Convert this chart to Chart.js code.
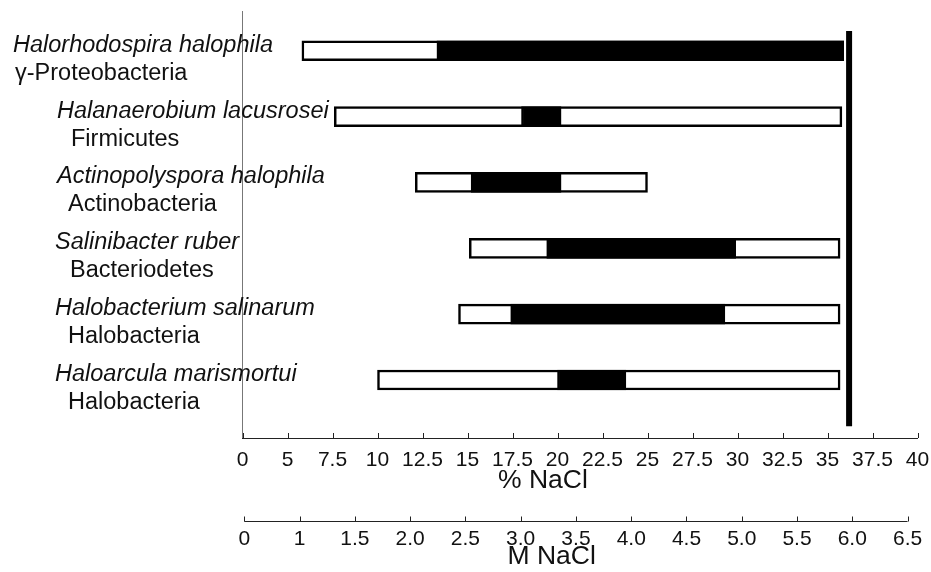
<!DOCTYPE html>
<html>
<head>
<meta charset="utf-8">
<script src="https://cdn.jsdelivr.net/npm/chart.js@4.4.1/dist/chart.umd.min.js"></script>
<style>
  html, body { margin: 0; padding: 0; background: #fff; }
  #chart { display: block; }
</style>
</head>
<body>
<canvas id="chart" width="931" height="572"></canvas>
<script>
// Species (top to bottom) and their phylum
const species = ['Halorhodospira halophila', 'Halanaerobium lacusrosei', 'Actinopolyspora halophila',
                 'Salinibacter ruber', 'Halobacterium salinarum', 'Haloarcula marismortui'];
const phyla = ['\u03b3-Proteobacteria', 'Firmicutes', 'Actinobacteria', 'Bacteriodetes', 'Halobacteria', 'Halobacteria'];

// Growth range, % NaCl
const rangeMin = [5.8, 7.6, 12.1, 15.1, 14.5, 10.0];
const rangeMax = [35.9, 35.8, 25.0, 35.7, 35.7, 35.7];
// Optimum range, % NaCl
const optMin = [13.3, 18.0, 15.2, 19.4, 17.4, 20.0];
const optMax = [35.9, 20.2, 20.2, 29.9, 29.3, 23.8];

// NaCl saturation
const saturation = 36.2;

// % NaCl axis (first tick is labelled 0)
const pctTicks = [2.5, 5, 7.5, 10, 12.5, 15, 17.5, 20, 22.5, 25, 27.5, 30, 32.5, 35, 37.5, 40];
const pctTickLabels = ['0', '5', '7.5', '10', '12.5', '15', '17.5', '20', '22.5', '25', '27.5', '30', '32.5', '35', '37.5', '40'];
// M NaCl axis
const molarTicks = [0.5, 1, 1.5, 2, 2.5, 3, 3.5, 4, 4.5, 5, 5.5, 6, 6.5];
const molarTickLabels = ['0', '1', '1.5', '2.0', '2.5', '3.0', '3.5', '4.0', '4.5', '5.0', '5.5', '6.0', '6.5'];

const FONT = '"Liberation Sans", Arial, sans-serif';
const INK = '#111';

// label columns on the left
const nameX = [13, 57, 57, 55, 55, 55];
const phylumX = [15, 71, 68, 70, 68, 68];

const sideLabels = {
    id: 'sideLabels',
    afterDraw(chart) {
        const ctx = chart.ctx;
        const y = chart.scales.y;
        ctx.save();
        ctx.fillStyle = INK;
        ctx.textBaseline = 'alphabetic';
        species.forEach((name, i) => {
            const py = y.getPixelForValue(i + 1);
            ctx.font = 'italic 23.5px ' + FONT;
            ctx.fillText(name, nameX[i], py + 1);
            ctx.font = '23.5px ' + FONT;
            ctx.fillText(phyla[i], phylumX[i], py + 29);
        });
        ctx.restore();
    }
};

// short tick marks pointing up, the M NaCl axis line and both axis titles
const axisExtras = {
    id: 'axisExtras',
    afterDraw(chart) {
        const ctx = chart.ctx;
        const {x, x2} = chart.scales;
        ctx.save();
        ctx.strokeStyle = '#222';
        ctx.lineWidth = 1;
        ctx.beginPath();
        pctTicks.forEach(v => {
            const px = Math.round(x.getPixelForValue(v)) + 0.5;
            ctx.moveTo(px, x.top);
            ctx.lineTo(px, x.top - 5);
        });
        const y2 = Math.round(x2.top + 39) + 0.5;
        ctx.moveTo(x2.getPixelForValue(molarTicks[0]), y2);
        ctx.lineTo(x2.getPixelForValue(molarTicks[molarTicks.length - 1]), y2);
        molarTicks.forEach(v => {
            const px = Math.round(x2.getPixelForValue(v)) + 0.5;
            ctx.moveTo(px, y2);
            ctx.lineTo(px, y2 - 5);
        });
        ctx.stroke();

        ctx.fillStyle = INK;
        ctx.font = '26.5px ' + FONT;
        ctx.textAlign = 'center';
        ctx.textBaseline = 'middle';
        ctx.fillText('% NaCl', x.left + x.width * 0.445, x.bottom - 1);
        ctx.fillText('M NaCl', x2.left + x2.width * 0.458, x2.top + 75);
        ctx.restore();
    }
};

const rows = species.map((s, i) => i + 1);

new Chart(document.getElementById('chart'), {
    type: 'bar',
    data: {
        datasets: [
            {
                label: 'Optimum',
                data: rows.map((r, i) => ({ y: r, x: [optMin[i], optMax[i]] })),
                backgroundColor: '#000',
                borderColor: '#000',
                borderWidth: 2,
                borderSkipped: false,
                barThickness: 20,
                grouped: false
            },
            {
                label: 'Range',
                data: rows.map((r, i) => ({ y: r, x: [rangeMin[i], rangeMax[i]] })),
                backgroundColor: '#fff',
                borderColor: '#000',
                borderWidth: 2.5,
                borderSkipped: false,
                barThickness: 20,
                grouped: false
            },
            {
                type: 'line',
                label: 'Saturation',
                data: [{ x: saturation, y: 0.7 }, { x: saturation, y: 6.7 }],
                borderColor: '#000',
                borderWidth: 6,
                pointRadius: 0,
                borderCapStyle: 'butt'
            }
        ]
    },
    options: {
        indexAxis: 'y',
        responsive: false,
        animation: false,
        layout: { padding: { left: 242.5, right: 13.5, top: 11, bottom: 0 } },
        plugins: { legend: { display: false }, tooltip: { enabled: false } },
        scales: {
            y: {
                type: 'linear',
                reverse: true,
                offset: false,
                min: 0.397,
                max: 6.88,
                ticks: { display: false },
                grid: { display: false, drawTicks: false },
                border: { display: true, color: '#777', width: 1 }
            },
            x: {
                type: 'linear',
                position: 'bottom',
                min: 2.5,
                max: 40,
                afterBuildTicks: s => { s.ticks = pctTicks.map(v => ({ value: v })); },
                ticks: {
                    color: INK,
                    font: { family: FONT, size: 21, lineHeight: '44px' },
                    padding: 0,
                    maxRotation: 0,
                    autoSkip: false,
                    callback: (v, i) => pctTickLabels[i]
                },
                grid: { display: false, drawTicks: false },
                border: { display: true, color: '#222', width: 1 }
            },
            x2: {
                type: 'linear',
                position: 'bottom',
                min: 0.483,
                max: 6.59,
                afterBuildTicks: s => { s.ticks = molarTicks.map(v => ({ value: v })); },
                ticks: {
                    color: INK,
                    font: { family: FONT, size: 21, lineHeight: '66px' },
                    padding: 0,
                    maxRotation: 0,
                    autoSkip: false,
                    callback: (v, i) => molarTickLabels[i]
                },
                grid: { display: false, drawTicks: true, tickLength: 24 },
                border: { display: false }
            }
        }
    },
    plugins: [sideLabels, axisExtras]
});
</script>
</body>
</html>
